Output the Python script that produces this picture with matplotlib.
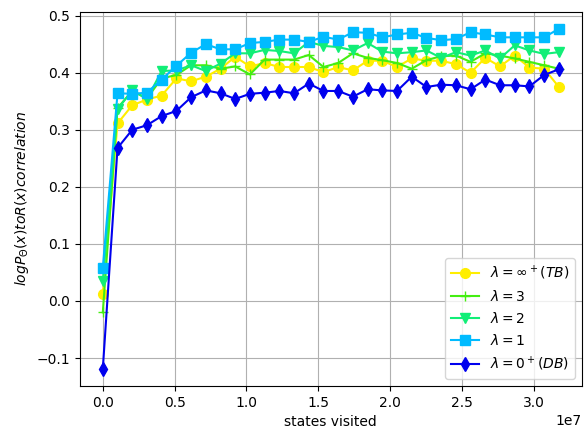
import numpy as np
import matplotlib
matplotlib.use('Agg')
import matplotlib.pyplot as plt

# states visited (one sample every ~1.024e6 states)
steps = np.arange(32) * 1.024e6

tb = [0.013, 0.311, 0.343, 0.353, 0.360, 0.390, 0.385, 0.393, 0.407, 0.428,
      0.411, 0.417, 0.410, 0.410, 0.410, 0.401, 0.410, 0.404, 0.421, 0.421,
      0.410, 0.425, 0.421, 0.421, 0.415, 0.400, 0.426, 0.411, 0.430, 0.409,
      0.407, 0.375]
lam3 = [-0.020, 0.338, 0.368, 0.355, 0.390, 0.396, 0.413, 0.413, 0.407, 0.411,
        0.397, 0.423, 0.423, 0.423, 0.431, 0.410, 0.417, 0.434, 0.426, 0.422,
        0.417, 0.407, 0.422, 0.429, 0.430, 0.419, 0.434, 0.430, 0.425, 0.419,
        0.413, 0.407]
lam2 = [0.035, 0.336, 0.369, 0.354, 0.403, 0.404, 0.413, 0.403, 0.416, 0.434,
        0.434, 0.440, 0.438, 0.434, 0.454, 0.447, 0.445, 0.439, 0.452, 0.437,
        0.434, 0.436, 0.439, 0.426, 0.436, 0.430, 0.439, 0.425, 0.448, 0.439,
        0.433, 0.436]
lam1 = [0.058, 0.364, 0.363, 0.365, 0.388, 0.412, 0.435, 0.450, 0.441, 0.441,
        0.452, 0.454, 0.458, 0.458, 0.454, 0.463, 0.458, 0.471, 0.470, 0.462,
        0.467, 0.470, 0.461, 0.457, 0.459, 0.471, 0.467, 0.462, 0.462, 0.462,
        0.462, 0.477]
db = [-0.119, 0.268, 0.300, 0.308, 0.324, 0.333, 0.357, 0.369, 0.364, 0.354,
      0.363, 0.365, 0.368, 0.364, 0.381, 0.368, 0.368, 0.358, 0.371, 0.369,
      0.368, 0.393, 0.375, 0.379, 0.378, 0.371, 0.388, 0.378, 0.378, 0.376,
      0.396, 0.406]

fig = plt.figure(figsize=(5.84, 4.36), dpi=100)
ax = fig.add_subplot(111)
fig.subplots_adjust(left=0.137, right=0.996, top=0.973, bottom=0.115)

ax.plot(steps, tb, marker='o', color='#ffee00', markersize=7, label=r'$\lambda=\infty^+(TB)$')
ax.plot(steps, lam3, marker='+', color='#44ee11', markersize=7, label=r'$\lambda=3$')
ax.plot(steps, lam2, marker='v', color='#11ee77', markersize=7, label=r'$\lambda=2$')
ax.plot(steps, lam1, marker='s', color='#00bbff', markersize=7, label=r'$\lambda=1$')
ax.plot(steps, db, marker='d', color='#0000ee', markersize=7, label=r'$\lambda=0^+(DB)$')

ax.set_xlabel('states visited')
ax.set_ylabel(r'$logP_{\Theta}(x) to R(x) correlation$')
ax.grid()
ax.legend(loc='lower right')

fig.savefig('out.png', dpi=100)
